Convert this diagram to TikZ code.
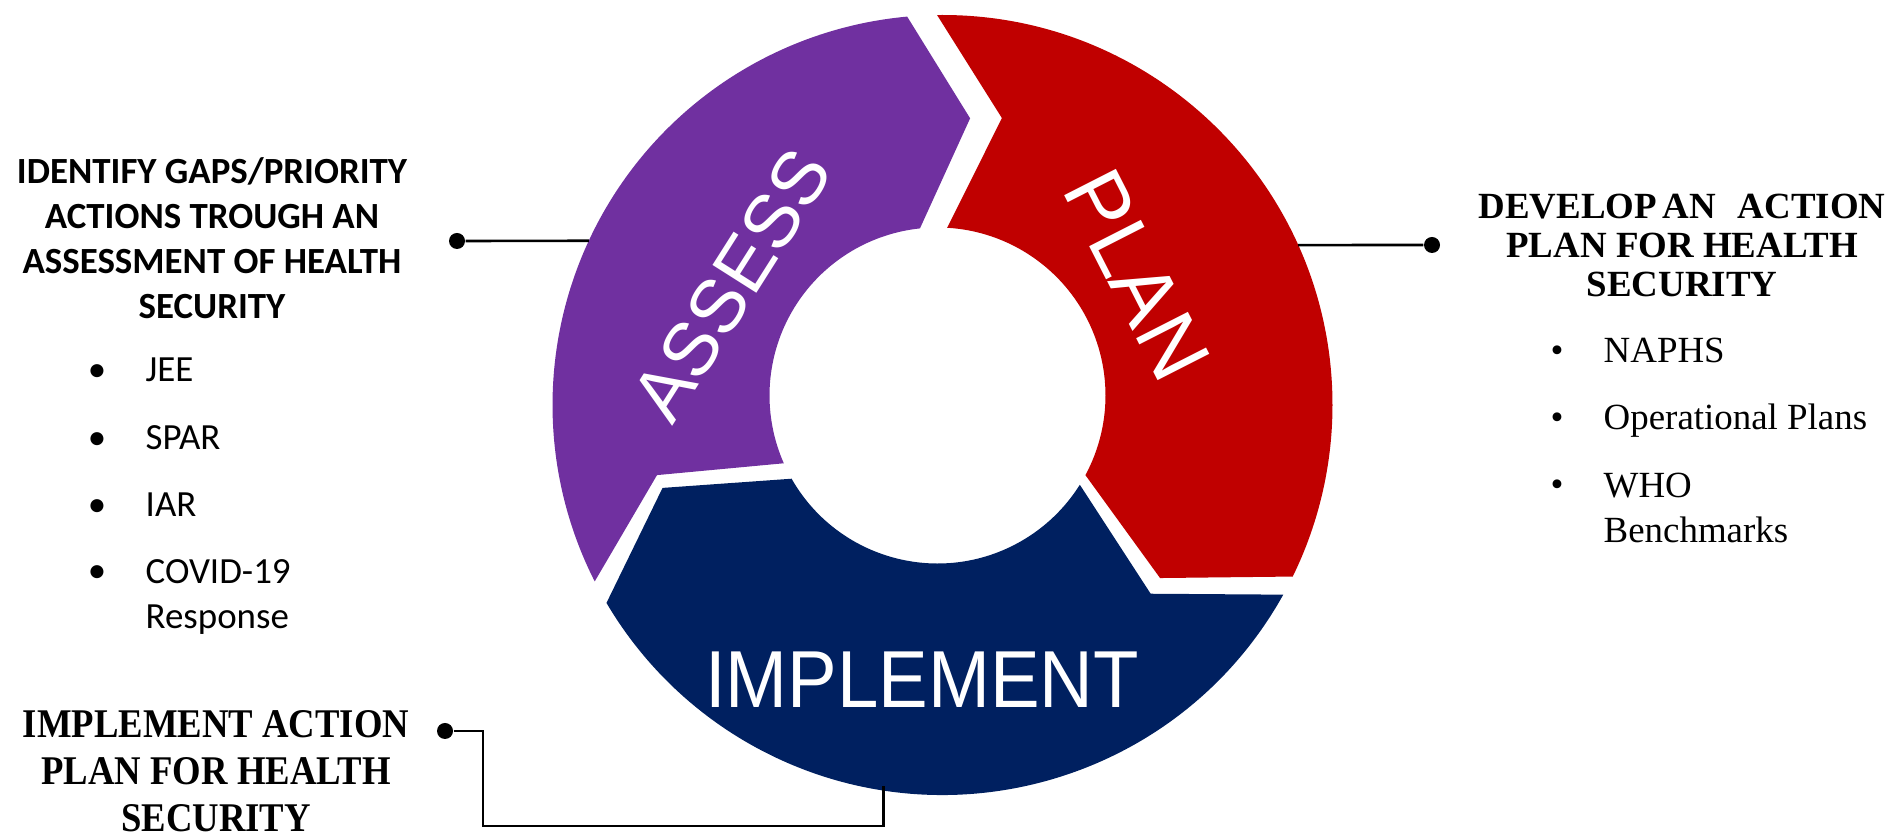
\documentclass[tikz,border=0pt]{standalone}
\usepackage{fontspec}
\usepackage{xcolor}
\usepackage{tikz}
\usetikzlibrary{calc}
\setmainfont{Liberation Serif}
\newfontfamily\calibrifont{Carlito}
\newfontfamily\condsans[FakeStretch=0.92]{Liberation Sans}
\newfontfamily\arialfont{Liberation Sans}
\newfontfamily\condserif[FakeStretch=0.9]{Liberation Serif}
\definecolor{assesspurple}{HTML}{7030A0}
\definecolor{planred}{HTML}{C00000}
\definecolor{implnavy}{HTML}{002060}

\begin{document}
\begin{tikzpicture}[
        ringlabel/.style={text=white, inner sep=0pt},
        leader/.style={line width=0.75pt},
        leaderdot/.style={circle, fill=black, inner sep=0pt, minimum size=1.6mm},
        lefttext/.style={font=\calibrifont\fontsize{10.5}{12.8}\selectfont, inner sep=0pt},
        righttext/.style={font=\fontsize{10.5}{12.8}\selectfont, inner sep=0pt}]
        \useasboundingbox (0,0) rectangle (18.94,8.35);
        \coordinate (O) at (9.425,4.30);
        \coordinate (I) at (9.375,4.395);
        % ring
        \fill[assesspurple] ($(O)+(206.9:3.9)$) arc[start angle=206.9, end angle=95.2, radius=3.9]
              -- ($(O)+(84.5:2.88)$) -- ($(I)+(96:1.68)$) arc[start angle=96, end angle=203.8, radius=1.68]
              -- ($(O)+(193.8:2.94)$) -- cycle;
        \fill[planred] ($(O)+(90.8:3.9)$) arc[start angle=90.8, end angle=-26.1, radius=3.9]
              -- ($(O)+(-38.5:2.78)$) -- ($(I)+(-28.3:1.68)$) arc[start angle=-28.3, end angle=86.7, radius=1.68]
              -- ($(O)+(78.3:2.93)$) -- cycle;
        \fill[implnavy] ($(O)+(-29.1:3.9)$) arc[start angle=-29.1, end angle=-149.5, radius=3.9]
              -- ($(O)+(-163.5:2.92)$) -- ($(I)+(-150.3:1.68)$) arc[start angle=-150.3, end angle=-32.1, radius=1.68]
              -- ($(O)+(-42.2:2.81)$) -- cycle;
        \node[ringlabel, rotate=57.6, font=\arialfont\fontsize{21.5}{21.5}\selectfont] (assess) at (7.32,5.50) {ASSESS};
        \node[ringlabel, rotate=-63, font=\arialfont\fontsize{24}{24}\selectfont] (plan) at (11.37,5.60) {PLAN};
        \node[ringlabel, font=\condsans\fontsize{23}{23}\selectfont] (implement) at (9.22,1.55) {IMPLEMENT};
        % left hand
        \node[lefttext, font=\calibrifont\bfseries\fontsize{10.5}{12.8}\selectfont, align=center, anchor=north]
              (assesshead) at (2.12,6.78) {IDENTIFY GAPS/PRIORITY\\ACTIONS TROUGH AN\\ASSESSMENT OF HEALTH\\SECURITY};
        \node[lefttext, anchor=base] (jeedot) at (0.97,4.53) {•};
        \node[lefttext, anchor=base west] (jee) at (1.45,4.53) {JEE};
        \node[lefttext, anchor=base] (spardot) at (0.97,3.85) {•};
        \node[lefttext, anchor=base west] (spar) at (1.45,3.85) {SPAR};
        \node[lefttext, anchor=base] (iardot) at (0.97,3.18) {•};
        \node[lefttext, anchor=base west] (iar) at (1.45,3.18) {IAR};
        \node[lefttext, anchor=base] (coviddot) at (0.97,2.52) {•};
        \node[lefttext, anchor=north west, align=left] (covid) at (1.45,2.76) {COVID-19\\Response};
        % right hand
        \node[righttext, font=\bfseries\fontsize{10.5}{11.1}\selectfont, align=center, anchor=north]
              (planhead) at (16.82,6.42) {DEVELOP\hspace{0.15em}AN\hspace{0.6em}ACTION\\PLAN FOR HEALTH\\SECURITY};
        \node[righttext, anchor=base] (naphsdot) at (15.57,4.72) {•};
        \node[righttext, anchor=base west] (naphs) at (16.03,4.72) {NAPHS};
        \node[righttext, anchor=base] (opsdot) at (15.57,4.05) {•};
        \node[righttext, anchor=base west] (ops) at (16.03,4.05) {Operational Plans};
        \node[righttext, anchor=base] (whodot) at (15.57,3.38) {•};
        \node[righttext, anchor=north west, align=left] (who) at (16.03,3.625) {WHO\\Benchmarks};
        % bottom
        \node[font=\condserif\bfseries\fontsize{11.6}{13.3}\selectfont, align=center, anchor=north, inner sep=0pt]
              (implhead) at (2.16,1.25) {IMPLEMENT ACTION\\PLAN FOR HEALTH\\SECURITY};
        % connectors
        \node[leaderdot] (assessend) at (4.57,5.94) {};
        \coordinate (assessring) at ($(O)+(155.1:3.9)$);
        \draw[leader] (assessend) -- (assessring);
        \node[leaderdot] (planend) at (14.32,5.90) {};
        \coordinate (planring) at ($(O)+(24.2:3.9)$);
        \draw[leader] (planring) -- (planend);
        \node[leaderdot] (implend) at (4.45,1.04) {};
        \coordinate (implbend) at (4.83,0.09);
        \coordinate (implring) at ($(O)+(261.2:3.86)$);
        \draw[leader] (implend) -| (implbend) -| (implring);
    \end{tikzpicture}
\end{document}
